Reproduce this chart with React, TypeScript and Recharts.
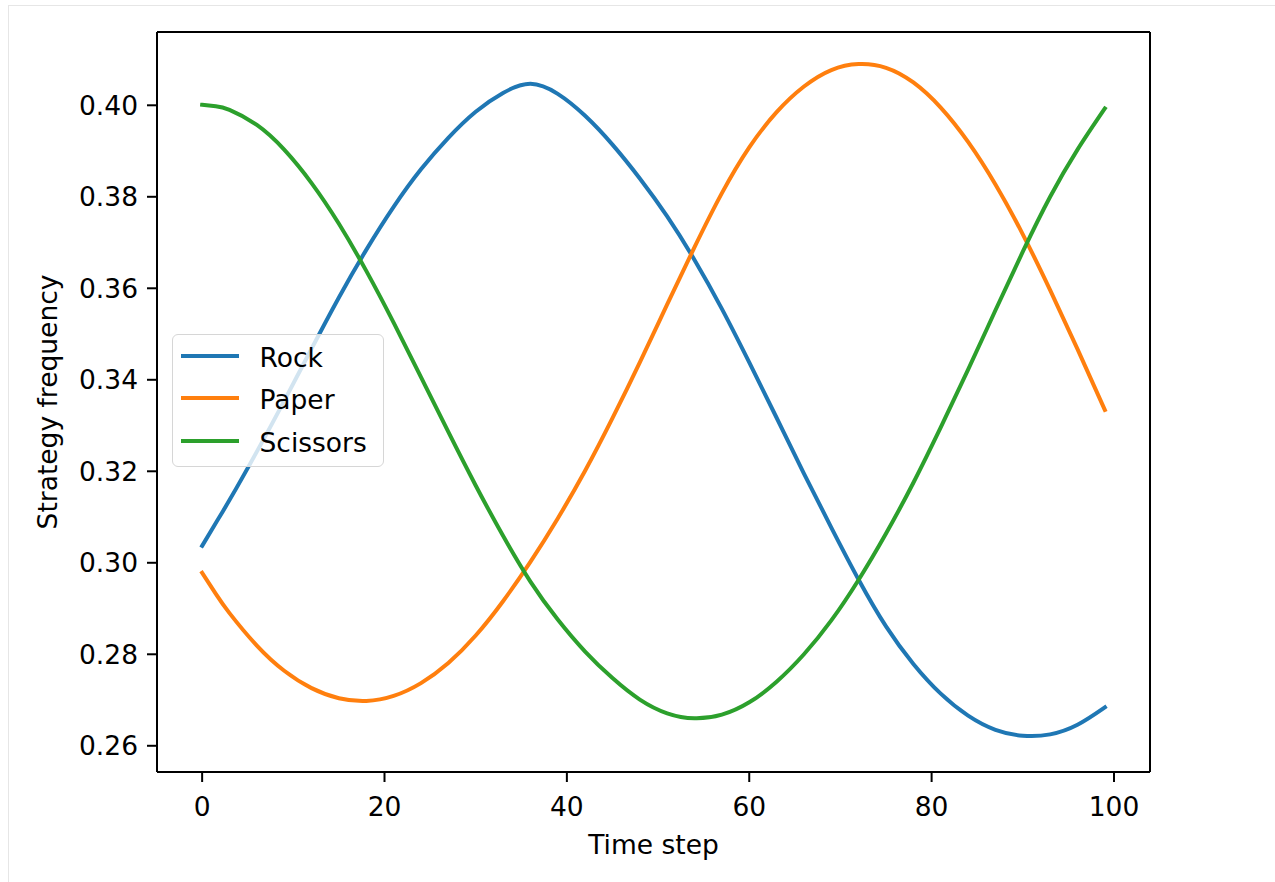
import { LineChart, Line, XAxis, YAxis, Legend } from "recharts";

// time steps, every 3 steps (0..99)
const steps = [
  0, 1.5, 3, 6, 9, 12, 15, 18, 21, 24, 27, 30, 33, 36, 39, 42, 45, 48, 51, 54,
  57, 60, 63, 66, 69, 72, 75, 78, 81, 84, 87, 90, 93, 96, 99,
];

const rock = [
  0.3037, 0.3087, 0.3137, 0.3243, 0.3354, 0.3468, 0.358, 0.3684, 0.3778, 0.386,
  0.3929, 0.3986, 0.4027, 0.4047, 0.4025, 0.3977, 0.3914, 0.384, 0.3757, 0.3662,
  0.3555, 0.3438, 0.3317, 0.3195, 0.3077, 0.2963, 0.2861, 0.2779, 0.2714, 0.2666,
  0.2635, 0.2622, 0.2625, 0.2646, 0.2684,
];

const paper = [
  0.2978, 0.2932, 0.289, 0.2819, 0.2764, 0.2726, 0.2704, 0.2698, 0.2709, 0.2737,
  0.2781, 0.2841, 0.2916, 0.3002, 0.3097, 0.3201, 0.3316, 0.3438, 0.3565, 0.369,
  0.3808, 0.3908, 0.3985, 0.4041, 0.4077, 0.409, 0.4082, 0.405, 0.3995, 0.392,
  0.3827, 0.3718, 0.3596, 0.3467, 0.3334,
];

const scissors = [
  0.4001, 0.3998, 0.399, 0.3957, 0.3903, 0.383, 0.3741, 0.3638, 0.3525, 0.3406,
  0.3286, 0.3169, 0.3059, 0.2959, 0.2876, 0.2806, 0.2748, 0.2701, 0.2671, 0.266,
  0.2668, 0.2695, 0.274, 0.28, 0.2874, 0.2963, 0.3064, 0.3175, 0.3296, 0.3422,
  0.3552, 0.368, 0.38, 0.3903, 0.3993,
];

const xTicks = [0, 20, 40, 60, 80, 100];
const yTicks = [0.26, 0.28, 0.3, 0.32, 0.34, 0.36, 0.38, 0.4];

const series = [
  { key: "rock", name: "Rock", color: "#1f77b4" },
  { key: "paper", name: "Paper", color: "#ff7f0e" },
  { key: "scissors", name: "Scissors", color: "#2ca02c" },
];

const data = steps.map((t, i) => ({
  t,
  rock: rock[i],
  paper: paper[i],
  scissors: scissors[i],
}));

const FONT = 26.5;
const xDomain = [-4.95, 103.95];
const yDomain = [0.25427, 0.41602];
const frame = { stroke: "#000", strokeWidth: 2 };

const renderLegend = () => (
  <div
    style={{
      position: "relative",
      width: 212,
      height: 133,
      boxSizing: "border-box",
      border: "1.5px solid #d6d6d6",
      borderRadius: 6,
      background: "rgba(255,255,255,0.8)",
    }}
  >
    {series.map((s, i) => (
      <div
        key={s.key}
        style={{
          position: "absolute",
          left: 7.5,
          top: 21.2 + i * 42.2 - 21,
          height: 42,
          display: "flex",
          alignItems: "center",
          whiteSpace: "nowrap",
        }}
      >
        <span style={{ display: "inline-block", width: 58, height: 4, background: s.color }} />
        <span
          style={{
            marginLeft: 21,
            fontSize: FONT,
            lineHeight: "42px",
            color: "#000",
            position: "relative",
            top: 2,
          }}
        >
          {s.name}
        </span>
      </div>
    ))}
  </div>
);

export default function App() {
  return (
    <div
      style={{
        position: "absolute",
        left: 0,
        top: 0,
        width: 1275,
        height: 882,
        background: "#fff",
        fontFamily: "'DejaVu Sans', sans-serif",
      }}
    >
      <div
        style={{
          position: "absolute",
          left: 8,
          top: 5,
          right: 0,
          bottom: 0,
          borderTop: "1px solid #e6e6e6",
          borderLeft: "1px solid #e6e6e6",
        }}
      />
      <LineChart
        width={1275}
        height={882}
        data={data}
        margin={{ top: 31, right: 124, bottom: 0, left: 0 }}
      >
        <XAxis
          dataKey="t"
          type="number"
          domain={xDomain}
          ticks={xTicks}
          interval={0}
          allowDataOverflow
          height={110}
          tickSize={10}
          tickMargin={15}
          axisLine={frame}
          tickLine={frame}
          tick={{ fill: "#000", fontSize: FONT }}
          label={{
            value: "Time step",
            position: "insideBottom",
            offset: 28,
            style: { fill: "#000", fontSize: FONT },
          }}
        />
        {/* top spine */}
        <XAxis
          xAxisId="top"
          dataKey="t"
          orientation="top"
          type="number"
          domain={xDomain}
          allowDataOverflow
          height={1}
          tick={false}
          tickLine={false}
          axisLine={frame}
        />
        <YAxis
          type="number"
          domain={yDomain}
          ticks={yTicks}
          interval={0}
          allowDataOverflow
          width={157}
          tickSize={10}
          tickMargin={9}
          axisLine={frame}
          tickLine={frame}
          tick={{ fill: "#000", fontSize: FONT }}
          tickFormatter={(v: number) => v.toFixed(2)}
          label={{
            value: "Strategy frequency",
            angle: -90,
            position: "insideLeft",
            offset: 48,
            style: { fill: "#000", fontSize: FONT, textAnchor: "middle" },
          }}
        />
        {/* right spine */}
        <YAxis
          yAxisId="right"
          orientation="right"
          type="number"
          domain={yDomain}
          allowDataOverflow
          width={1}
          tick={false}
          tickLine={false}
          axisLine={frame}
        />
        {series.map((s) => (
          <Line
            key={s.key}
            type="natural"
            dataKey={s.key}
            name={s.name}
            stroke={s.color}
            strokeWidth={4}
            strokeLinecap="square"
            dot={false}
            activeDot={false}
            isAnimationActive={false}
          />
        ))}
        <Legend
          layout="vertical"
          align="center"
          verticalAlign="middle"
          wrapperStyle={{ left: 172, top: 334, width: 212, height: 133 }}
          content={renderLegend}
        />
      </LineChart>
    </div>
  );
}
